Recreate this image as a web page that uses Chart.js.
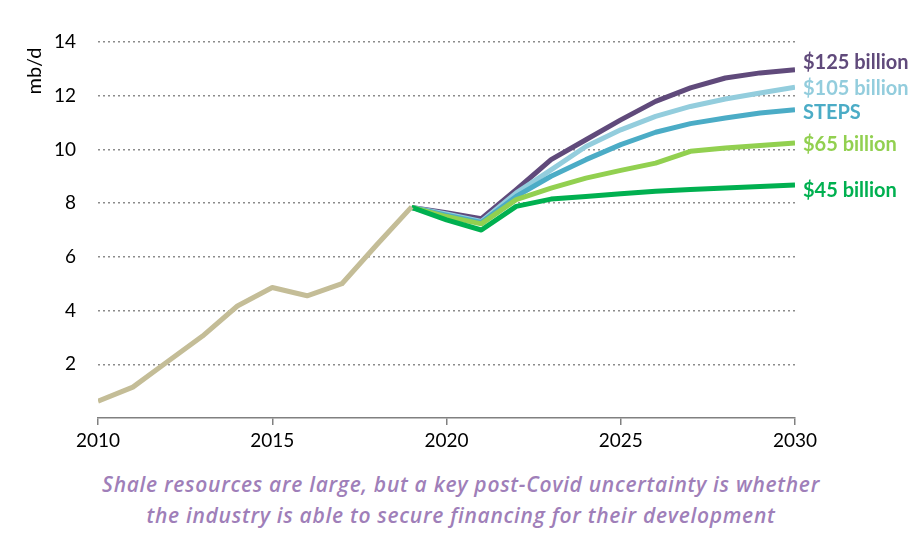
<!DOCTYPE html>
<html><head><meta charset="utf-8">
<script src="https://cdn.jsdelivr.net/npm/chart.js@4.4.1/dist/chart.umd.min.js"></script>
<style>
html,body{margin:0;padding:0;background:#fff;width:912px;height:540px;overflow:hidden}
#wrap{position:absolute;left:0;top:0;width:912px;height:460px}
#cap{position:absolute;left:0;top:469px;width:922px;text-align:center;font-family:"Open Sans",sans-serif;font-style:italic;font-weight:600;font-size:21px;letter-spacing:0.7px;line-height:31px;color:#9F7FB9}
</style></head><body>
<div id="wrap"><canvas id="c" width="912" height="460"></canvas></div>
<div id="cap">Shale resources are large, but a key post-Covid uncertainty is whether<br>the industry is able to secure financing for their development</div>
<script>
const histYears = [2010,2011,2012,2013,2014,2015,2016,2017,2018,2019];
const histValues = [0.63,1.15,2.1,3.05,4.17,4.86,4.55,5.0,6.45,7.86];
const projYears = [2019,2020,2021,2022,2023,2024,2025,2026,2027,2028,2029,2030];
const s45 = [7.84,7.38,7.0,7.88,8.15,8.25,8.35,8.44,8.51,8.56,8.62,8.68];
const s65 = [7.84,7.5,7.23,8.13,8.56,8.93,9.22,9.49,9.93,10.05,10.15,10.24];
const steps = [7.84,7.55,7.28,8.25,9.0,9.62,10.18,10.64,10.96,11.17,11.36,11.48];
const s105 = [7.84,7.6,7.32,8.38,9.24,10.11,10.73,11.23,11.6,11.88,12.1,12.32];
const s125 = [7.84,7.64,7.42,8.5,9.62,10.36,11.1,11.79,12.29,12.66,12.85,12.97];
const seriesNames = ["$45 billion","$65 billion","STEPS","$105 billion","$125 billion"];
const yTicks = [2,4,6,8,10,12,14];
const xTicks = [2010,2015,2020,2025,2030];

const colors = ["#00B050","#92D050","#4BACC6","#93CDDD","#604A7B"];
const labelShift = [6,2,3,1,-7];
const pts = (xs, ys) => xs.map((x,i)=>({x, y: ys[i]}));
const proj = [s45,s65,steps,s105,s125];

const datasets = [{label:"History", data: pts(histYears,histValues), borderColor:"#C4BD97", borderWidth:5, pointRadius:0, tension:0, borderCapStyle:"butt", borderJoinStyle:"round"}];
proj.forEach((arr,i)=>datasets.push({label:seriesNames[i], data: pts(projYears,arr), borderColor:colors[i], borderWidth:5, pointRadius:0, tension:0, borderJoinStyle:"round"}));

const endLabels = {
  id:"endLabels",
  afterDatasetsDraw(chart){
    const ctx = chart.ctx; const ys = chart.scales.y; const xs = chart.scales.x;
    ctx.save();
    ctx.font = "bold 20px Lato, sans-serif";
    ctx.textBaseline = "middle"; ctx.textAlign = "left";
    proj.forEach((arr,i)=>{
      const v = arr[arr.length-1];
      ctx.fillStyle = colors[i];
      ctx.fillText(seriesNames[i], xs.getPixelForValue(2030)+8, ys.getPixelForValue(v)+labelShift[i]);
    });
    ctx.fillStyle = "#000";
    ctx.font = "20px Lato, sans-serif";
    ctx.translate(35, 71);
    ctx.rotate(-Math.PI/2);
    ctx.textAlign = "center";
    ctx.fillText("mb/d", 0, 0);
    ctx.restore();
  }
};

new Chart(document.getElementById("c"), {
  type:"line",
  data:{datasets},
  options:{
    responsive:false, animation:false,
    layout:{padding:{left:0,right:117,top:42,bottom:0}},
    plugins:{legend:{display:false}, tooltip:{enabled:false}},
    scales:{
      x:{type:"linear", min:2010, max:2030,
        afterBuildTicks(s){ s.ticks = xTicks.map(v=>({value:v})); },
        afterFit(s){ s.height = 42; },
        grid:{drawOnChartArea:false, drawTicks:true, tickLength:7, color:"#808080", lineWidth:1.5},
        border:{display:true, color:"#808080", width:1.5},
        ticks:{font:{family:"Lato", size:19}, color:"#000", padding:4, maxRotation:0, callback:v=>String(v)}
      },
      y:{type:"linear", min:0, max:14,
        afterBuildTicks(s){ s.ticks = yTicks.map(v=>({value:v})); },
        afterFit(s){ s.width = 98; },
        grid:{drawTicks:false, color:"#8c8c8c", lineWidth:1.5},
        border:{display:false, dash:[2,3]},
        ticks:{font:{family:"Lato", size:19}, color:"#000", padding:22}
      }
    }
  },
  plugins:[endLabels]
});
</script>
</body></html>
